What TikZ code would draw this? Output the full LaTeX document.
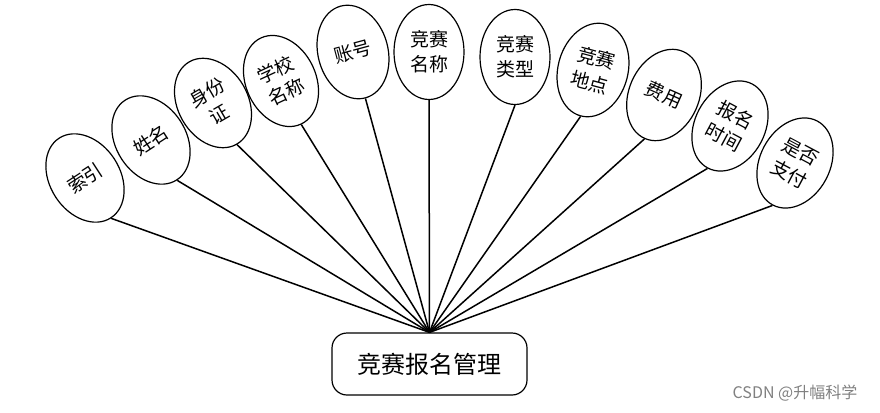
\documentclass[tikz,border=0pt]{standalone}
\usepackage{fontspec}
\setmainfont{Liberation Sans}
\newfontfamily\cjk{Noto Sans CJK SC}
\usetikzlibrary{shapes.geometric,positioning}
\usepackage{xcolor}

\begin{document}
\begin{tikzpicture}[
  x=1pt, y=-1pt,
  attr/.style={ellipse, draw=black, line width=1.2pt, minimum width=70pt,
    minimum height=95pt, inner sep=0pt, align=center,
    font=\cjk\fontsize{19}{25}\selectfont},
  entity/.style={rectangle, rounded corners=15pt, draw=black, line width=1.2pt,
    minimum width=195pt, minimum height=62pt,
    font=\cjk\fontsize{24}{28}\selectfont},
  link/.style={line width=1.5pt}
]
\useasboundingbox (0,0) rectangle (880,412);

\node[entity] (baoming) at (429.5,364) {竞赛报名管理};

\node[attr, rotate=33] (suoyin) at (85,178) {索引};
\node[attr, rotate=33] (xingming) at (151,140) {姓名};
\node[attr, rotate=30] (shenfen) at (213,103) {身份\\证};
\node[attr, rotate=25] (xuexiao) at (281,81) {学校\\名称};
\node[attr, rotate=15] (zhanghao) at (353,52) {账号};
\node[attr] (mingcheng) at (429,52) {竞赛\\名称};
\node[attr] (leixing) at (515,57) {竞赛\\类型};
\node[attr, rotate=-15] (didian) at (593,70) {竞赛\\地点};
\node[attr, rotate=-24] (feiyong) at (664,95) {费用};
\node[attr, rotate=-28] (shijian) at (730,126) {报名\\时间};
\node[attr, rotate=-28] (zhifu) at (795,163) {是否\\支付};

\draw[link] (suoyin.south) -- (baoming.north);
\draw[link] (xingming.south) -- (baoming.north);
\draw[link] (shenfen.south) -- (baoming.north);
\draw[link] (xuexiao.south) -- (baoming.north);
\draw[link] (zhanghao.south) -- (baoming.north);
\draw[link] (mingcheng.south) -- (baoming.north);
\draw[link] (leixing.south) -- (baoming.north);
\draw[link] (didian.south) -- (baoming.north);
\draw[link] (feiyong.south) -- (baoming.north);
\draw[link] (shijian.south) -- (baoming.north);
\draw[link] (zhifu.south) -- (baoming.north);

\node[font=\cjk\fontsize{16}{18}\selectfont, text=black!50] (csdn) at (795,393) {CSDN @升幅科学};

\end{tikzpicture}
\end{document}
